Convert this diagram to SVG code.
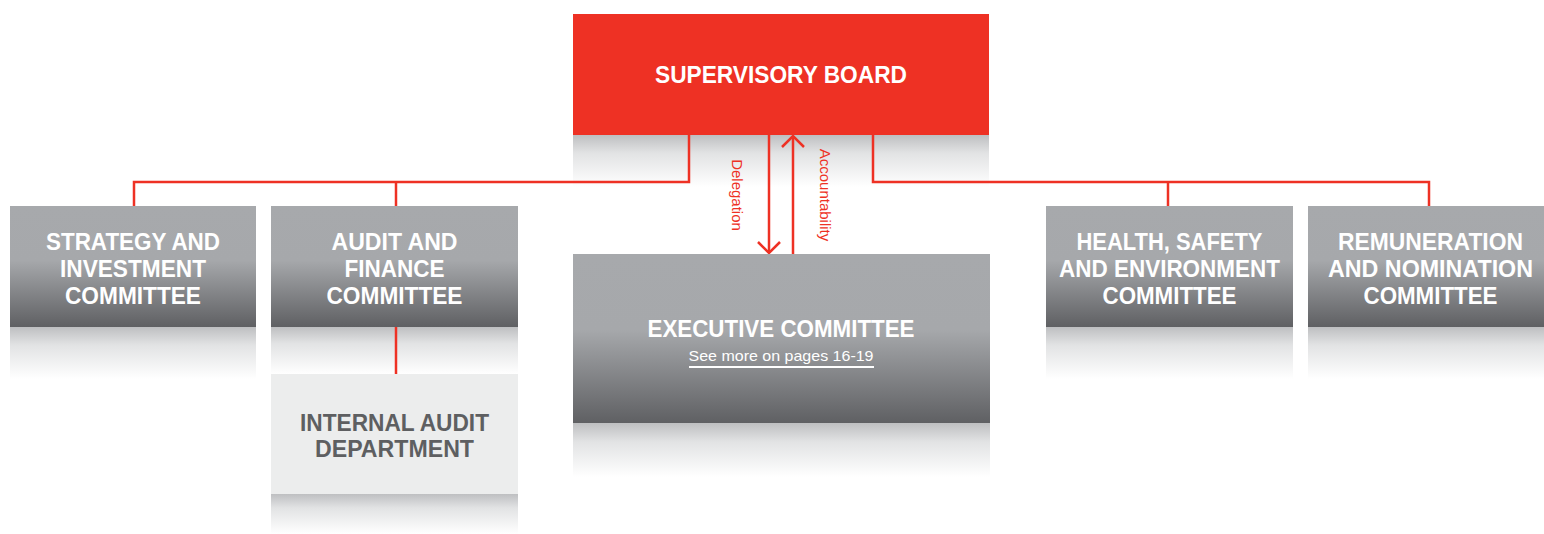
<svg xmlns="http://www.w3.org/2000/svg" width="1544" height="534" viewBox="0 0 1544 534">
<style>
.box{fill:url(#gBox)}
.ref{fill:url(#gRef)}
.t{font-family:"Liberation Sans",Arial,sans-serif;font-weight:bold;font-size:24px;fill:#FFFFFF;text-anchor:middle}
.ti{font-family:"Liberation Sans",Arial,sans-serif;font-weight:bold;font-size:24px;fill:#5E5F61;text-anchor:middle}
.lbl{font-family:"Liberation Sans",Arial,sans-serif;font-size:15px;fill:#EE3124;text-anchor:middle}
.sub{font-family:"Liberation Sans",Arial,sans-serif;font-size:15px;fill:#FFFFFF;text-anchor:middle}
.ln{stroke:#EE3124;stroke-width:2.5;fill:none}
</style>
<defs>
<linearGradient id="gBox" x1="0" y1="0" x2="0" y2="1">
<stop offset="0" stop-color="#A7A9AC"/>
<stop offset="0.45" stop-color="#A6A8AB"/>
<stop offset="1" stop-color="#5F6063"/>
</linearGradient>
<linearGradient id="gRef" x1="0" y1="0" x2="0" y2="1">
<stop offset="0" stop-color="#BEBFC1"/>
<stop offset="0.35" stop-color="#E2E3E4"/>
<stop offset="1" stop-color="#FFFFFF"/>
</linearGradient>
<marker id="chev" viewBox="-13 -13 26 26" refX="0" refY="0" markerWidth="26" markerHeight="26" markerUnits="userSpaceOnUse" orient="auto" overflow="visible">
<path d="M-11,-11 L0,0 L-11,11" stroke="#EE3124" stroke-width="2.5" fill="none"/>
</marker>
</defs>

<g id="reflections">
<rect class="ref" x="573" y="135" width="416" height="52"/>
<rect class="ref" x="10" y="327" width="246" height="52"/>
<rect class="ref" x="271" y="327" width="247" height="47"/>
<rect class="ref" x="1046" y="327" width="247" height="52"/>
<rect class="ref" x="1308" y="327" width="246" height="52"/>
<rect class="ref" x="573" y="423" width="417" height="54"/>
<rect class="ref" x="271" y="494" width="247" height="40"/>
</g>

<g id="connectors">
<path class="ln" d="M689,135 V182 H134 V206"/>
<path class="ln" d="M396,182 V206"/>
<path class="ln" d="M873,135 V182 H1429 V206"/>
<path class="ln" d="M1168,182 V206"/>
<path class="ln" d="M396,327 V374"/>
<path class="ln" d="M769,135 V253" marker-end="url(#chev)"/>
<path class="ln" d="M793,254 V136" marker-end="url(#chev)"/>
<text class="lbl" transform="translate(731.5,195) rotate(90)">Delegation</text>
<text class="lbl" transform="translate(819.5,195) rotate(90)">Accountability</text>
</g>

<g id="supervisory-board">
<rect x="573" y="14" width="416" height="121" fill="#EE3124"/>
<text class="t" x="781" y="83" font-size="23" textLength="252" lengthAdjust="spacingAndGlyphs">SUPERVISORY BOARD</text>
</g>

<g id="strategy-investment">
<rect class="box" x="10" y="206" width="246" height="121"/>
<text class="t" x="133" y="250" textLength="174" lengthAdjust="spacingAndGlyphs">STRATEGY AND</text>
<text class="t" x="133" y="277" textLength="146" lengthAdjust="spacingAndGlyphs">INVESTMENT</text>
<text class="t" x="133" y="304" textLength="136" lengthAdjust="spacingAndGlyphs">COMMITTEE</text>
</g>

<g id="audit-finance">
<rect class="box" x="271" y="206" width="247" height="121"/>
<text class="t" x="394.5" y="250" textLength="126" lengthAdjust="spacingAndGlyphs">AUDIT AND</text>
<text class="t" x="394.5" y="277" textLength="100" lengthAdjust="spacingAndGlyphs">FINANCE</text>
<text class="t" x="394.5" y="304" textLength="136" lengthAdjust="spacingAndGlyphs">COMMITTEE</text>
</g>

<g id="internal-audit">
<rect x="271" y="374" width="247" height="120" fill="#ECEDED"/>
<text class="ti" x="394.5" y="431" textLength="189" lengthAdjust="spacingAndGlyphs">INTERNAL AUDIT</text>
<text class="ti" x="394.5" y="457" textLength="159" lengthAdjust="spacingAndGlyphs">DEPARTMENT</text>
</g>

<g id="executive-committee">
<rect class="box" x="573" y="254" width="417" height="169"/>
<text class="t" x="781" y="337" textLength="267" lengthAdjust="spacingAndGlyphs">EXECUTIVE COMMITTEE</text>
<text class="sub" x="781" y="361" textLength="185" lengthAdjust="spacingAndGlyphs">See more on pages 16-19</text>
<rect x="689" y="366" width="185" height="2" fill="#FFFFFF"/>
</g>

<g id="health-safety-environment">
<rect class="box" x="1046" y="206" width="247" height="121"/>
<text class="t" x="1169.5" y="250" textLength="186" lengthAdjust="spacingAndGlyphs">HEALTH, SAFETY</text>
<text class="t" x="1169.5" y="277" textLength="221" lengthAdjust="spacingAndGlyphs">AND ENVIRONMENT</text>
<text class="t" x="1169.5" y="304" textLength="134" lengthAdjust="spacingAndGlyphs">COMMITTEE</text>
</g>

<g id="remuneration-nomination">
<rect class="box" x="1308" y="206" width="246" height="121"/>
<text class="t" x="1430.5" y="250" textLength="185" lengthAdjust="spacingAndGlyphs">REMUNERATION</text>
<text class="t" x="1430.5" y="277" textLength="205" lengthAdjust="spacingAndGlyphs">AND NOMINATION</text>
<text class="t" x="1430.5" y="304" textLength="134" lengthAdjust="spacingAndGlyphs">COMMITTEE</text>
</g>
</svg>
